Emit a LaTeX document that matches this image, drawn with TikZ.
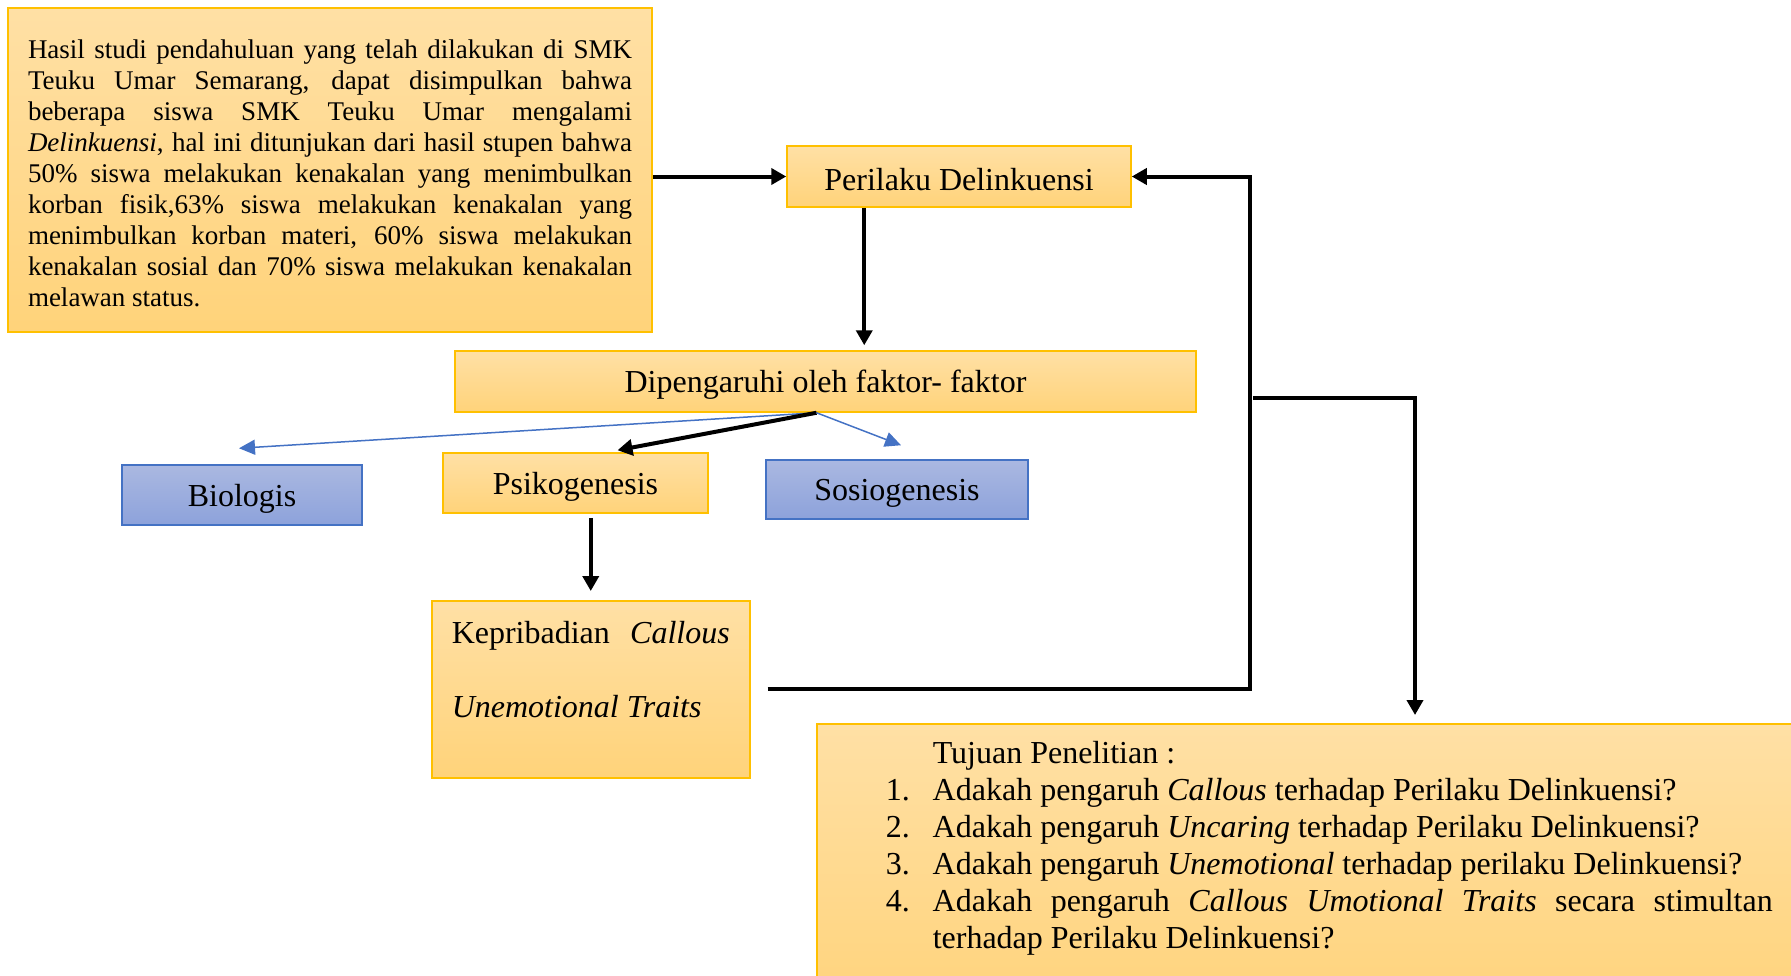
\documentclass[tikz,border=0pt]{standalone}
\usepackage{fontspec}
\setmainfont{Liberation Serif}
\usetikzlibrary{positioning,arrows.meta,calc}
\definecolor{GoldLine}{RGB}{255,192,0}
\definecolor{GoldTop}{RGB}{255,224,165}
\definecolor{GoldBottom}{RGB}{255,211,122}
\definecolor{BlueLine}{RGB}{68,114,196}
\definecolor{BlueTop}{RGB}{170,184,225}
\definecolor{BlueBottom}{RGB}{141,162,219}
\newcommand{\tujitem}[2]{\hangindent=23.5pt\hangafter=1\noindent\makebox[23.5pt][l]{#1}#2\par}

\begin{document}
\begin{tikzpicture}[
x=0.5pt,y=-0.5pt,
goldbox/.style={
rectangle,
draw=GoldLine,
line width=0.75pt,
top color=GoldTop,
bottom color=GoldBottom,
align=center,
inner sep=0pt,
font=\fontsize{16}{19}\selectfont
},
bluebox/.style={
goldbox,
draw=BlueLine,
top color=BlueTop,
bottom color=BlueBottom
},
boxtext/.style={
text height=14.5pt
},
arrow/.style={
-{Triangle[length=7.5pt,width=8pt]},
line width=2pt,
draw=black
},
thinarrow/.style={
-{Triangle[length=8pt,width=7.5pt]},
line width=0.75pt,
draw=BlueLine
}
]
\clip (0,0) rectangle (1791,975);

\node[goldbox,minimum width=322pt,minimum height=162pt,text width=302pt,align=justify,
font=\fontsize{13.5}{15.5}\selectfont] (info) at (330,170)
{\rule{0pt}{13pt}Hasil studi pendahuluan yang telah dilakukan di SMK\linebreak
Teuku Umar Semarang, dapat disimpulkan bahwa\linebreak
beberapa siswa SMK Teuku Umar mengalami\linebreak
\textit{Delinkuensi}, hal ini ditunjukan dari hasil stupen bahwa\linebreak
50\% siswa melakukan kenakalan yang menimbulkan\linebreak
korban fisik,63\% siswa melakukan kenakalan yang\linebreak
menimbulkan korban materi, 60\% siswa melakukan\linebreak
kenakalan sosial dan 70\% siswa melakukan kenakalan\linebreak
melawan status.};
\node[goldbox,boxtext,minimum width=172pt,minimum height=30.5pt] (perilaku) at (959,176.5) {Perilaku Delinkuensi};
\node[goldbox,boxtext,minimum width=370.5pt,minimum height=30.5pt] (faktor) at (825.5,381.5) {Dipengaruhi oleh faktor- faktor};
\node[bluebox,boxtext,minimum width=120pt,minimum height=30pt] (biologis) at (242,495) {Biologis};
\node[goldbox,boxtext,minimum width=132.5pt,minimum height=30pt] (psiko) at (575.5,483) {Psikogenesis};
\node[bluebox,boxtext,minimum width=131pt,minimum height=29.5pt] (sosio) at (897,489.5) {Sosiogenesis};
\node[goldbox,anchor=north west,minimum width=159pt,minimum height=88.5pt] (kepri) at (431,600)
{\parbox[c][88.5pt][t]{139pt}{\fontsize{16}{37}\selectfont\vspace*{10.5pt}%
Kepribadian \textit{Callous} \textit{Unemotional Traits}}};
\node[goldbox,anchor=north west,inner xsep=34.5pt] (tujuan) at (816,723)
{\parbox[c][150pt][t]{443.5pt}{\fontsize{16}{18.5}\selectfont\hyphenpenalty=10000\vspace*{9pt}%
\hspace*{23.5pt}Tujuan Penelitian :\par
\tujitem{1.}{Adakah pengaruh \textit{Callous} terhadap Perilaku Delinkuensi?}
\tujitem{2.}{Adakah pengaruh \textit{Uncaring} terhadap Perilaku Delinkuensi?}
\tujitem{3.}{Adakah pengaruh \textit{Unemotional} terhadap perilaku Delinkuensi?}
\tujitem{4.}{Adakah pengaruh \textit{Callous Umotional Traits} secara stimultan\linebreak terhadap Perilaku Delinkuensi?}}};

\coordinate (pd) at ($(perilaku.south west)+(78,0)$);
\coordinate (fs) at ($(faktor.south)+(-9,0)$);
\coordinate (rail) at (1250,0);
\coordinate (split) at (1253,398);
\coordinate (tj) at (1415,723);

\draw[arrow] (info.east |- perilaku.west) -- (perilaku.west);
\draw[arrow,shorten >=2.5pt] (pd) -- (pd |- faktor.north);
\draw[thinarrow] (fs) -- ([xshift=-1.5pt,yshift=8pt]biologis.north);
\draw[arrow] (fs) -- ([xshift=21pt,yshift=1pt]psiko.north);
\draw[thinarrow] (fs) -- ([xshift=2pt,yshift=7pt]sosio.north);
\draw[arrow,shorten <=2pt,shorten >=4.5pt] (kepri.north |- psiko.south) -- (kepri.north);
\draw[arrow] ([xshift=8.5pt]kepri.east) -| (rail |- perilaku.east) -- (perilaku.east);
\draw[arrow,shorten >=4pt] (split) -| (tj);

\end{tikzpicture}
\end{document}
